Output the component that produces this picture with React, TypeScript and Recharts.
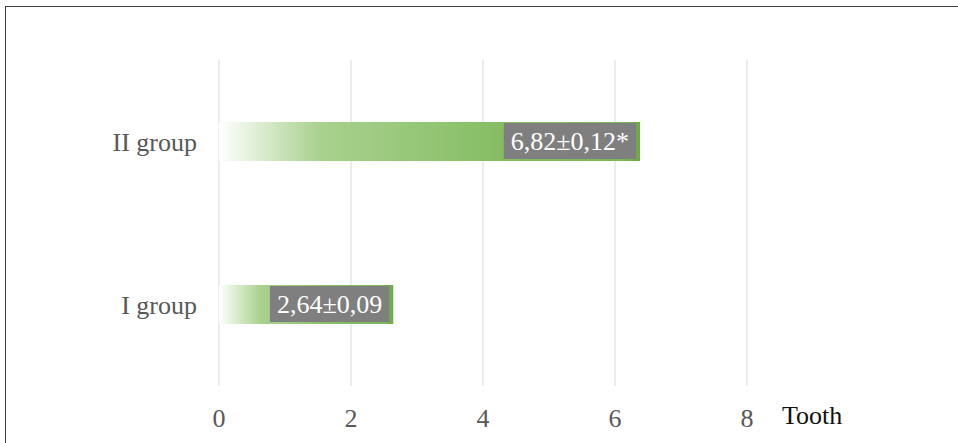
import { BarChart, Bar, XAxis, YAxis, CartesianGrid, LabelList, Label } from 'recharts';

// groups from top to bottom
const groups = ['II group', 'I group'];
// drawn bar lengths
const barValues = [6.38, 2.64];
// printed labels on the bars
const barLabels = ['6,82±0,12*', '2,64±0,09'];
const xTicks = [0, 2, 4, 6, 8];
const axisTitle = 'Tooth';

const data = groups.map((name, i) => ({ name, value: barValues[i], label: barLabels[i] }));

const FONT = "'Liberation Serif', 'Times New Roman', serif";
const SIZE = 26;

function measure(text: string, size: number): number {
	const c = document.createElement('canvas').getContext('2d');
	if (!c) return text.length * size * 0.5;
	c.font = `${size}px ${FONT}`;
	return c.measureText(text).width;
}

// grey box with white text, sitting at the end of the bar
const BoxLabel = (props: any) => {
	const { x, y, width, height, index } = props;
	const text = barLabels[index] ?? String(props.value);
	const w = measure(text, SIZE) + 14;
	const right = x + width - 4;
	return (
		<g>
			<rect x={right - w} y={y + 1} width={w} height={height - 3} fill="#7f7f7f" />
			<text
				x={right - w / 2}
				y={y + height / 2}
				dy="0.33em"
				textAnchor="middle"
				fill="#ffffff"
				fontSize={SIZE}
				fontFamily={FONT}
			>
				{text}
			</text>
		</g>
	);
};

export default function App() {
	return (
		<div style={{ position: 'absolute', left: 0, top: 0, width: 958, height: 443, background: '#fff', overflow: 'hidden' }}>
			<div
				style={{
					position: 'absolute',
					left: 5,
					top: 6,
					width: 970,
					height: 460,
					borderLeft: '1px solid #3f3f3f',
					borderTop: '1px solid #3f3f3f',
				}}
			/>
			<BarChart
				width={958}
				height={443}
				data={data}
				layout="vertical"
				margin={{ top: 60, right: 211, left: 0, bottom: 0 }}
				style={{ fontFamily: FONT, position: 'absolute', left: 0, top: 0 }}
			>
				<defs>
					<linearGradient id="barFade" x1="0" y1="0" x2="1" y2="0">
						<stop offset="0%" stopColor="#ffffff" />
						<stop offset="24%" stopColor="#a9d18e" />
						<stop offset="70%" stopColor="#83bc61" />
						<stop offset="96%" stopColor="#7ab756" />
						<stop offset="100%" stopColor="#6aab42" />
					</linearGradient>
				</defs>
				<CartesianGrid horizontal={false} stroke="#d9d9d9" />
				<XAxis
					type="number"
					domain={[0, 8]}
					ticks={xTicks}
					axisLine={false}
					tickLine={false}
					tickMargin={17}
					height={57}
					tick={{ fill: '#595959', fontSize: SIZE, fontFamily: FONT }}
				>
					<Label value={axisTitle} position="right" offset={35} fill="#111111" fontSize={SIZE} fontFamily={FONT} />
				</XAxis>
				<YAxis
					type="category"
					dataKey="name"
					width={219}
					axisLine={false}
					tickLine={false}
					tickMargin={16}
					tick={{ fill: '#595959', fontSize: SIZE, fontFamily: FONT }}
				/>
				<Bar dataKey="value" fill="url(#barFade)" barSize={39} isAnimationActive={false}>
					<LabelList dataKey="label" content={<BoxLabel />} />
				</Bar>
			</BarChart>
		</div>
	);
}
